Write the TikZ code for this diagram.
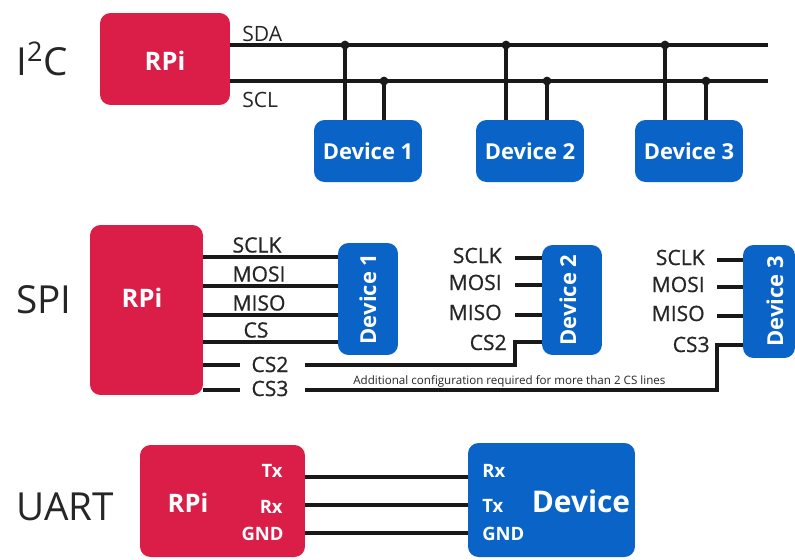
\documentclass[tikz,border=0pt]{standalone}
\usepackage{fontspec}
\setmainfont{Open Sans}
\newfontfamily\semibf{Open Sans}[FakeBold=0.8]
\usetikzlibrary{positioning}
\definecolor{rpired}{HTML}{DA1E48}
\definecolor{devblue}{HTML}{0A64C8}
\tikzset{
  rpibox/.style={fill=rpired, rounded corners=6pt, inner sep=0pt},
  devbox/.style={fill=devblue, rounded corners=6pt, inner sep=0pt},
  boxtext/.style={text=white, inner sep=0pt, font=\bfseries\fontsize{14.5}{16}\selectfont},
  devtext/.style={text=white, inner sep=0pt, font=\bfseries\fontsize{12.5}{14}\selectfont},
  proto/.style={inner sep=0pt, text=black!85, font=\fontsize{22}{24}\selectfont},
  sig/.style={inner sep=0pt, text=black!85, font=\fontsize{12}{13}\selectfont},
  spisig/.style={sig, font=\semibf\fontsize{12}{13}\selectfont},
  pinlabel/.style={inner sep=0pt, text=white, font=\bfseries\fontsize{10.5}{12}\selectfont},
  wire/.style={line width=1.9pt, black!90},
  tap/.style={fill=black!90}
}

\begin{document}
\begin{tikzpicture}[x=0.02cm, y=-0.02cm]
    \useasboundingbox (0,0) rectangle (795,559);

    % I2C bus
    \node[proto, anchor=base west] (i2c) at (16,75) {I\textsuperscript{2}C};
    \node[rpibox, minimum width=2.6cm, minimum height=1.84cm] (i2crpi) at (165,59) {};
    \node[boxtext, anchor=base] (i2crpitext) at (165,70) {RPi};
    \coordinate (sdaend) at (768,45);
    \coordinate (sclend) at (768,81);
    \draw[wire] (i2crpi.east |- sdaend) -- (sdaend);
    \draw[wire] (i2crpi.east |- sclend) -- (sclend);
    \node[sig, anchor=base west] (sda) at (242,41) {SDA};
    \node[sig, anchor=base west] (scl) at (242,107) {SCL};
    \foreach \n/\xa/\xb in {1/345/384, 2/506/547, 3/665/706} {
        \node[devbox, minimum width=2.16cm, minimum height=1.24cm] (i2cdev\n) at ({(\xa+\xb)/2+3.5},151) {};
        \node[devtext] (i2cdevtext\n) at (i2cdev\n) {Device \n};
        \coordinate (sda\n) at (\xa,45);
        \coordinate (scl\n) at (\xb,81);
        \draw[wire] (sda\n) -- (i2cdev\n.north -| sda\n);
        \draw[wire] (scl\n) -- (i2cdev\n.north -| scl\n);
        \fill[tap] (sda\n) circle (2.5pt);
        \fill[tap] (scl\n) circle (2.5pt);
    }

    % SPI bus
    \node[proto, anchor=base west] (spi) at (16,313) {SPI};
    \node[rpibox, minimum width=2.26cm, minimum height=3.4cm] (spirpi) at (146.5,310) {};
    \node[boxtext, anchor=base] (spirpitext) at (142,307) {RPi};
    \node[devbox, minimum width=1.2cm, minimum height=2.24cm] (spidev1) at (368,299) {};
    \node[devbox, minimum width=1.2cm, minimum height=2.2cm] (spidev2) at (572,300) {};
    \node[devbox, minimum width=1.04cm, minimum height=2.26cm] (spidev3) at (769,301.5) {};
    \node[devtext, rotate=90] (spidevtext1) at (368,299) {Device 1};
    \node[devtext, rotate=90] (spidevtext2) at (568,300) {Device 2};
    \node[devtext, rotate=90] (spidevtext3) at (775,301.5) {Device 3};
    % lines to device 1
    \foreach \s/\y/\lx in {SCLK/257/257, MOSI/286/259, MISO/315/259, CS/342/256} {
        \draw[wire] (spirpi.east |- 0,\y) -- (spidev1.west |- 0,\y);
        \node[spisig, anchor=base] (one\s) at (\lx,\y-4.5) {\s};
    }
    % lines to devices 2 and 3
    \foreach \s/\y in {SCLK/258, MOSI/285, MISO/315} {
        \node[spisig, anchor=base east] (two\s) at (502,\y+5) {\s};
        \draw[wire] (515,\y) -- (spidev2.west |- 0,\y);
    }
    \foreach \s/\y in {SCLK/260, MOSI/287, MISO/316} {
        \node[spisig, anchor=base east] (three\s) at (705,\y+5) {\s};
        \draw[wire] (717,\y) -- (spidev3.west |- 0,\y);
    }
    \node[spisig, anchor=base east] (twoCS) at (507,350) {CS2};
    \node[spisig, anchor=base east] (threeCS) at (710,352) {CS3};
    % extra chip selects
    \node[spisig, anchor=base] (csb) at (270,372) {CS2};
    \node[spisig, anchor=base] (csc) at (270,396) {CS3};
    \coordinate (csbgap) at (240,365);
    \coordinate (csbout) at (305,365);
    \coordinate (cscgap) at (240,390);
    \coordinate (cscout) at (305,390);
    \draw[wire] (spirpi.east |- csbgap) -- (csbgap);
    \draw[wire] (spirpi.east |- cscgap) -- (cscgap);
    \draw[wire] (csbout) -- (515,365) -- (515,342) -- (spidev2.west |- 0,342);
    \draw[wire] (cscout) -- (717,390) -- (717,345) -- (spidev3.west |- 0,345);
    \node[inner sep=0pt, anchor=base west, text=black!85, font=\fontsize{6.6}{7}\selectfont] (note) at (353,384)
        {Additional configuration required for more than 2 CS lines};

    % UART
    \node[proto, anchor=base west] (uart) at (16,520) {UART};
    \node[rpibox, minimum width=3.3cm, minimum height=2.24cm] (uartrpi) at (222.5,501) {};
    \node[boxtext, anchor=base] (uartrpitext) at (188,512) {RPi};
    \node[devbox, minimum width=3.34cm, minimum height=2.28cm] (uartdev) at (551.5,500) {};
    \node[text=white, inner sep=0pt, anchor=base, font=\bfseries\fontsize{17}{18}\selectfont] (uartdevtext) at (581,512) {Device};
    \foreach \y in {477, 505, 533} {
        \draw[wire] (uartrpi.east |- 0,\y) -- (uartdev.west |- 0,\y);
    }
    \node[pinlabel, anchor=base east] (rpitx) at (283,477) {Tx};
    \node[pinlabel, anchor=base east] (rpirx) at (283,513) {Rx};
    \node[pinlabel, anchor=base east] (rpignd) at (284,540) {GND};
    \node[pinlabel, anchor=base west] (devrx) at (482,477) {Rx};
    \node[pinlabel, anchor=base west] (devtx) at (482,512) {Tx};
    \node[pinlabel, anchor=base west] (devgnd) at (482,540) {GND};
\end{tikzpicture}
\end{document}
